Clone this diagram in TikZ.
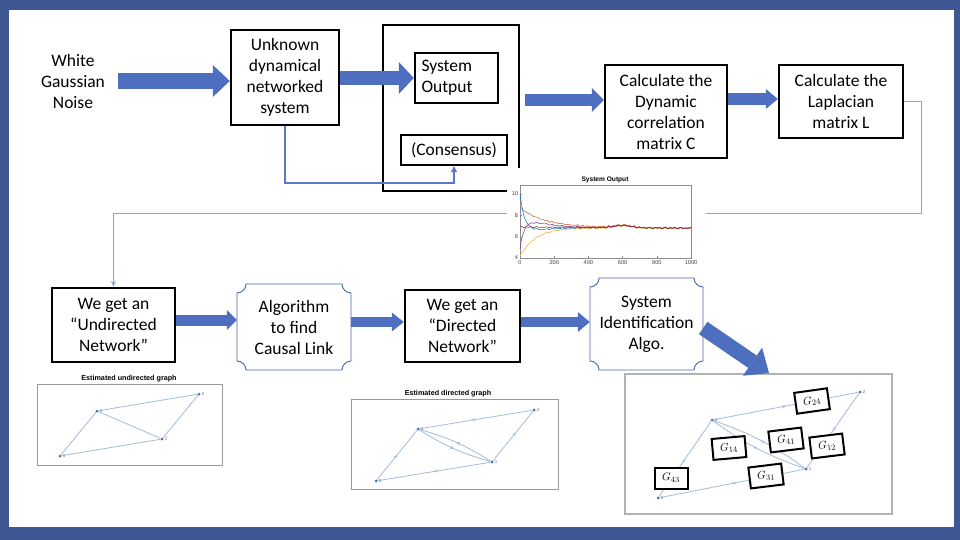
\documentclass[tikz,border=0pt]{standalone}
\usepackage{fontspec}
\setmainfont{Carlito}
\newfontfamily\plotf{Liberation Sans}
\usetikzlibrary{arrows.meta,decorations.markings,calc}
\definecolor{frameblue}{HTML}{3F5792}
\definecolor{arrowblue}{HTML}{4E6FC0}
\definecolor{linkblue}{HTML}{5A78C8}
\definecolor{plaqueblue}{HTML}{4A66AC}
\definecolor{grayline}{HTML}{8EA5CC}
\definecolor{edgeblue}{HTML}{A3BCDA}
\definecolor{dotblue}{HTML}{3C6EB4}
\definecolor{mblue}{HTML}{0072BD}
\definecolor{morange}{HTML}{D95319}
\definecolor{myellow}{HTML}{EDB120}
\definecolor{mpurple}{HTML}{7E2F8E}
\definecolor{mred}{HTML}{A2142F}
\newcommand\mysize{\fontsize{17.5}{21}\selectfont}
\newcommand\plaque[5]{\draw[plaquestyle] (#1+#5,#2) -- (#3-#5,#2) arc[start angle=180,end angle=90,radius=#5] -- (#3,#4-#5) arc[start angle=270,end angle=180,radius=#5] -- (#1+#5,#4) arc[start angle=0,end angle=-90,radius=#5] -- (#1,#2+#5) arc[start angle=90,end angle=0,radius=#5] -- cycle;}
\begin{document}
\begin{tikzpicture}[x=1pt,y=-1pt,
  mainbox/.style={draw=black, line width=2.4pt, fill=white, align=center, inner sep=0pt, font=\mysize},
  plainlabel/.style={align=center, inner sep=0pt, font=\mysize},
  plaquenode/.style={align=center, inner sep=0pt, font=\mysize},
  plaquestyle/.style={draw=plaqueblue, line width=0.9pt, fill=white},
  bigarrow/.style n args={3}{draw=arrowblue, line width=#1, -{Triangle[length=#3, width=#2, line width=0pt]}},
  ticklabel/.style={font=\plotf\fontsize{5.6}{6}\selectfont, inner sep=0.8pt, text=black!75},
  framegray/.style={draw=black!40, line width=0.9pt},
  gtitle/.style={font=\plotf\bfseries\fontsize{#1}{8}\selectfont, inner sep=0pt},
  gtitle/.default=7.2,
  gdot/.style={circle, fill=dotblue, inner sep=0pt, minimum size=3pt},
  glab/.style={font=\plotf\fontsize{4.4}{5}\selectfont, text=black!60, inner sep=1pt},
  gedge/.style={draw=edgeblue, line width=0.8pt},
  midarrow/.style={postaction={decorate}, decoration={markings, mark=at position 0.5 with {\arrow{Stealth[length=3.6pt,width=3pt]}}}},
  gbox/.style={draw=black, line width=2pt, fill=white, minimum width=33pt, minimum height=21pt, inner sep=0pt, font=\fontsize{11}{12}\selectfont},
  declare function={
    mt(\s)=6.9+0.22*exp(max(-((\s-60)/7)^2,-15))-0.1*\s/100+0.035*sin(120*\s)+0.025*sin(77*\s+30);
    pb(\s)=mt(\s)+3.1*exp(max(-\s/2.5,-15))-0.25*(\s/8)*exp(max(1-\s/8,-15));
    po(\s)=mt(\s)+0.02+1.8*exp(max(-\s/14,-15))+0.03*sin(141*\s);
    py(\s)=mt(\s)-0.05-2.7*exp(max(-\s/9,-15));
    pp(\s)=mt(\s)-2.1*exp(max(-\s/2,-15))+0.45*(\s/7)*exp(max(1-\s/7,-15));
    pr(\s)=mt(\s)+0.01*sin(133*\s);
  }]
\useasboundingbox (0,0) rectangle (960,540);
\fill[frameblue] (0,0) rectangle (960,540);
\fill[white] (9,10) rectangle (954,527);

% ---------- top row ----------
\node[plainlabel] (noise) at (73,81) {White\\Gaussian\\Noise};
\node[mainbox, minimum width=108pt, minimum height=95pt] (unk) at (285,77.5) {Unknown\\dynamical\\networked\\system};
\node[mainbox, text width=70pt, align=left, inner xsep=6.5pt, minimum height=50pt] (sysout) at (456.5,78) {System\\Output};
\node[mainbox, minimum width=106pt, minimum height=30pt] (cons) at (454,150) {(Consensus)};
\node[mainbox, minimum width=122pt, minimum height=93pt] (dyn) at (666,111.5) {Calculate the\\Dynamic\\correlation\\matrix C};
\node[mainbox, minimum width=124pt, minimum height=73pt] (lap) at (841,101.5) {Calculate the\\Laplacian\\matrix L};

% ---------- bottom row ----------
\node[mainbox, minimum width=123pt, minimum height=74pt] (und) at (113.5,325) {We get an\\“Undirected\\Network”};
\plaque{237}{284}{351}{370}{9}
\node[plaquenode, minimum width=114pt, minimum height=86pt] (algo) at (294,327) {Algorithm\\to find\\Causal Link};
\node[mainbox, minimum width=115pt, minimum height=72pt] (dir) at (462.5,326) {We get an\\“Directed\\Network”};
\plaque{590}{278}{703}{370}{9}
\node[plaquenode, minimum width=113pt, minimum height=92pt] (sysid) at (646.5,324) {System\\Identification\\Algo.};

% outer box around output
\draw[line width=2.4pt] (519,168) -- (519,25) -- (383,25) -- (383,191) -- (513,191);

% thin connectors
\coordinate (lk) at (285,183);
\draw[linkblue, line width=1.6pt, -{Triangle[length=6pt,width=6pt]}] (unk.south) -- (lk) -| (cons.south);
\coordinate (gt) at (921,213);
\draw[grayline, line width=0.8pt, -{Stealth[length=6pt,width=5pt]}] (lap.east) -| (gt) -| (und.north);

% big arrows top
\coordinate (a1) at ([xshift=13pt]noise.east);
\draw[bigarrow={16pt}{32pt}{17pt}] (a1) -- (a1 -| unk.west);
\draw[bigarrow={14pt}{32pt}{15pt}] (unk.east |- sysout.west) -- (sysout.west);
\coordinate (outR) at (525,100);
\draw[bigarrow={12pt}{24pt}{12pt}] (outR) -- (outR -| dyn.west);
\coordinate (a4) at ([yshift=12.5pt]dyn.east);
\draw[bigarrow={12pt}{20pt}{12pt}] (a4) -- (a4 -| lap.west);

% big arrows bottom
\coordinate (a5) at ([yshift=5pt]und.east);
\draw[bigarrow={11pt}{20pt}{10pt}] (a5) -- (a5 -| algo.west);
\coordinate (a6) at ([yshift=5pt]algo.east);
\draw[bigarrow={10pt}{19pt}{12pt}] (a6) -- (a6 -| dir.west);
\coordinate (a7) at ([yshift=4pt]dir.east);
\draw[bigarrow={10pt}{20pt}{12pt}] (a7) -- (a7 -| sysid.west);

% ---------- system output plot ----------
\fill[white] (507,170) rectangle (706,276);
\draw[black!45, line width=0.4pt] (520,185) rectangle (691,258);
\node[gtitle=6.6] (ptitle) at (605,180) {System Output};
\foreach \v/\yy in {10/194,8/215.3,6/236.7,4/258} {
  \node[ticklabel, anchor=east] (yt\v) at (519,\yy) {\v};
  \draw[black!45, line width=0.3pt] (520,\yy) -- (522,\yy);
}
\foreach \t [count=\i] in {0,200,400,600,800,1000} {
  \node[ticklabel, anchor=north] (xt\i) at ({520+0.171*\t},260) {\t};
  \draw[black!45, line width=0.3pt] ({520+0.171*\t},258) -- ({520+0.171*\t},256);
}
\begin{scope}[line width=0.5pt]
\draw[myellow] plot[domain=0:100, samples=140, smooth] ({520+1.71*\x},{258-10.667*(py(\x)-4)});
\draw[mblue] plot[domain=0:100, samples=140, smooth] ({520+1.71*\x},{258-10.667*(pb(\x)-4)});
\draw[mpurple] plot[domain=0:100, samples=140, smooth] ({520+1.71*\x},{258-10.667*(pp(\x)-4)});
\draw[morange] plot[domain=0:100, samples=140, smooth] ({520+1.71*\x},{258-10.667*(po(\x)-4)});
\draw[mred] plot[domain=0:100, samples=140, smooth] ({520+1.71*\x},{258-10.667*(pr(\x)-4)});
\end{scope}

% ---------- undirected graph ----------
\draw[framegray] (37,384) rectangle (222,465);
\node[gtitle] (utitle) at (129,379) {Estimated undirected graph};
\node[gdot, label={[glab]right:4}] (u4) at (97,411) {};
\node[gdot, label={[glab]right:2}] (u2) at (199,394) {};
\node[gdot, label={[glab]right:1}] (u1) at (162,439) {};
\node[gdot, label={[glab]right:3}] (u3) at (60,456) {};
\draw[gedge] (u4) -- (u2);
\draw[gedge] (u4) -- (u1);
\draw[gedge] (u2) -- (u1);
\draw[gedge] (u1) -- (u3);
\draw[gedge] (u3) -- (u4);

% ---------- directed graph ----------
\draw[framegray] (351,399) rectangle (558,489);
\node[gtitle] (dtitle) at (448,394) {Estimated directed graph};
\node[gdot, label={[glab]right:4}] (e4) at (418,429) {};
\node[gdot, label={[glab]right:2}] (e2) at (534,410) {};
\node[gdot, label={[glab]right:1}] (e1) at (492,462) {};
\node[gdot, label={[glab]right:3}] (e3) at (376,481) {};
\draw[gedge, midarrow] (e4) -- (e2);
\draw[gedge, midarrow] (e2) -- (e1);
\draw[gedge, midarrow] (e4) to[bend right=8] (e1);
\draw[gedge, midarrow] (e1) to[bend right=8] (e4);
\draw[gedge, midarrow] (e1) -- (e3);
\draw[gedge, midarrow] (e3) -- (e4);

% ---------- identified graph ----------
\draw[draw=black!30, line width=1.3pt] (625,374) rectangle (892,514);
\node[gdot, label={[glab]right:2}] (r2) at (860,392) {};
\node[gdot, label={[glab]right:4}] (r4) at (712,420) {};
\node[gdot, label={[glab]right:1}] (r1) at (806,469) {};
\node[gdot, label={[glab]right:3}] (r3) at (658,498) {};
\draw[gedge, midarrow] (r4) -- (r2);
\draw[gedge, midarrow] (r2) -- (r1);
\draw[gedge, midarrow] (r4) to[bend right=8] (r1);
\draw[gedge, midarrow] (r1) to[bend right=8] (r4);
\draw[gedge, midarrow] (r1) -- (r3);
\draw[gedge, midarrow] (r3) -- (r4);
\node[gbox, rotate=8] (g24) at (812,401) {$G_{24}$};
\node[gbox, rotate=7] (g41) at (786,440) {$G_{41}$};
\node[gbox, rotate=7] (g12) at (827,446) {$G_{12}$};
\node[gbox, rotate=5] (g14) at (729,448) {$G_{14}$};
\node[gbox] (g43) at (671,478) {$G_{43}$};
\node[gbox, rotate=7] (g31) at (766,476) {$G_{31}$};

% diagonal arrow
\coordinate (dg1) at ([yshift=-4pt]sysid.east);
\coordinate (dg2) at (769,373);
\draw[bigarrow={15pt}{34pt}{20pt}] (dg1) -- (dg2);
\end{tikzpicture}
\end{document}
